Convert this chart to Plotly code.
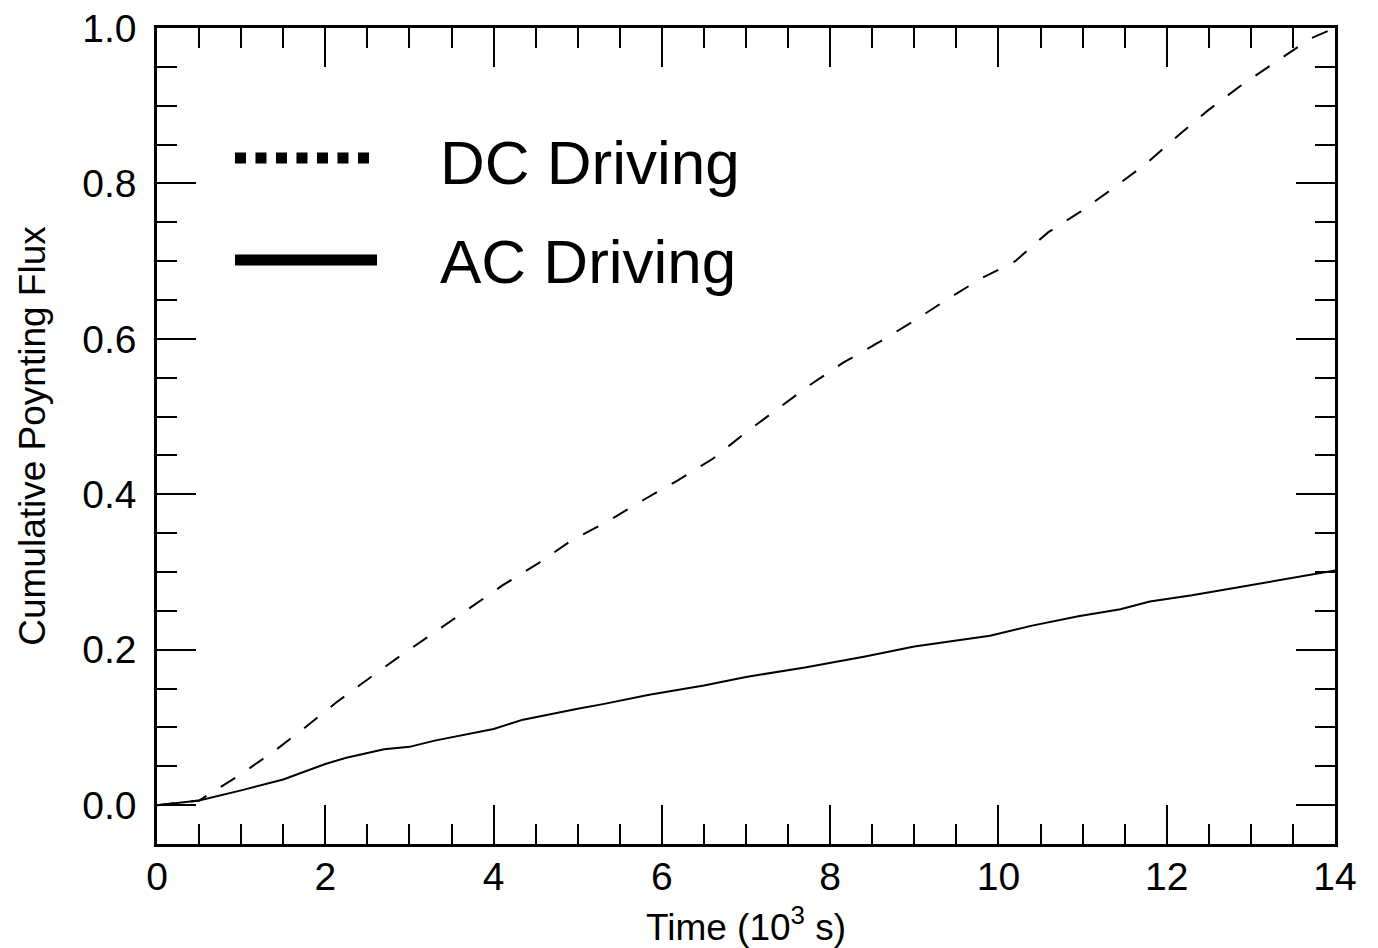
import plotly.graph_objects as go

# Time in units of 10^3 s, cumulative Poynting flux (normalised)
ac_time = [0.0, 0.5, 1.0, 1.5, 2.0, 2.25, 2.7, 3.0, 3.3, 4.0, 4.35, 4.7, 5.0, 5.3,
           5.85, 6.5, 7.0, 7.7, 8.4, 9.0, 9.9, 10.4, 10.95, 11.45, 11.8, 12.3,
           13.1, 13.9, 14.0]
ac_flux = [0.0, 0.006, 0.019, 0.033, 0.053, 0.061, 0.072, 0.075, 0.083, 0.098,
           0.110, 0.118, 0.124, 0.130, 0.142, 0.154, 0.165, 0.177, 0.191, 0.204,
           0.218, 0.231, 0.243, 0.252, 0.262, 0.270, 0.285, 0.300, 0.302]

dc_time = [0.0, 0.5, 1.0, 1.4, 1.76, 2.13, 2.53, 2.93, 3.32, 3.72, 4.11, 4.53,
           4.93, 5.34, 5.77, 6.19, 6.61, 6.98, 7.36, 7.75, 8.15, 8.57, 8.98, 9.38,
           9.8, 10.2, 10.59, 10.98, 11.38, 11.76, 12.13, 12.49, 12.87, 13.28,
           13.7, 14.0]
dc_flux = [0.0, 0.006, 0.040, 0.070, 0.100, 0.132, 0.164, 0.195, 0.224, 0.254,
           0.283, 0.311, 0.341, 0.364, 0.392, 0.418, 0.446, 0.478, 0.508, 0.540,
           0.569, 0.595, 0.622, 0.650, 0.678, 0.700, 0.737, 0.764, 0.795, 0.826,
           0.861, 0.894, 0.925, 0.955, 0.986, 1.0]

x_ticks = [0, 2, 4, 6, 8, 10, 12, 14]
y_ticks = [0.0, 0.2, 0.4, 0.6, 0.8, 1.0]

legend_labels = ["DC Driving", "AC Driving"]

FONT = "Liberation Sans, Arial, Helvetica, sans-serif"

fig = go.Figure()
fig.add_trace(go.Scatter(x=dc_time, y=dc_flux, mode="lines",
                         line=dict(color="black", width=2, dash="17px,17px"),
                         name=legend_labels[0], showlegend=False))
fig.add_trace(go.Scatter(x=ac_time, y=ac_flux, mode="lines",
                         line=dict(color="black", width=2),
                         name=legend_labels[1], showlegend=False))

axis_common = dict(
    showline=True, linecolor="black", linewidth=2.5, mirror="ticks",
    ticks="inside", ticklen=39, tickwidth=2, tickcolor="black",
    showgrid=False, zeroline=False, automargin=False,
    tickfont=dict(family=FONT, size=39, color="black"),
)

fig.update_xaxes(
    range=[0, 14], tickvals=x_ticks, ticktext=[str(v) for v in x_ticks],
    minor=dict(dtick=0.5, ticks="inside", ticklen=20, tickwidth=2, tickcolor="black"),
    title=dict(text="Time (10<sup>3</sup> s)", font=dict(family=FONT, size=37, color="black"),
               standoff=19),
    ticklabelstandoff=-4,
    **axis_common,
)
fig.update_yaxes(
    range=[-0.05, 1.0], tickvals=y_ticks, ticktext=[f"{v:.1f}" for v in y_ticks],
    minor=dict(dtick=0.05, ticks="inside", ticklen=20, tickwidth=2, tickcolor="black"),
    title=dict(text="Cumulative Poynting Flux", font=dict(family=FONT, size=37, color="black"),
               standoff=26),
    ticklabelstandoff=10,
    **axis_common,
)

# Legend drawn as thick line samples with large labels
fig.add_shape(type="line", xref="paper", yref="paper", x0=0.0662, x1=0.1842,
              y0=0.8406, y1=0.8406, line=dict(color="black", width=11, dash="11px,9.5px"))
fig.add_shape(type="line", xref="paper", yref="paper", x0=0.0662, x1=0.1868,
              y0=0.7156, y1=0.7156, line=dict(color="black", width=11))
fig.add_annotation(xref="paper", yref="paper", x=0.2385, y=0.835, xanchor="left",
                   yanchor="middle", text=legend_labels[0], showarrow=False,
                   font=dict(family=FONT, size=62, color="black"))
fig.add_annotation(xref="paper", yref="paper", x=0.2385, y=0.714, xanchor="left",
                   yanchor="middle", text=legend_labels[1], showarrow=False,
                   font=dict(family=FONT, size=62, color="black"))

fig.update_layout(
    width=1378, height=948,
    margin=dict(l=157, r=43, t=28, b=104),
    paper_bgcolor="white", plot_bgcolor="white",
    showlegend=False,
)

fig.write_html("out.html")
